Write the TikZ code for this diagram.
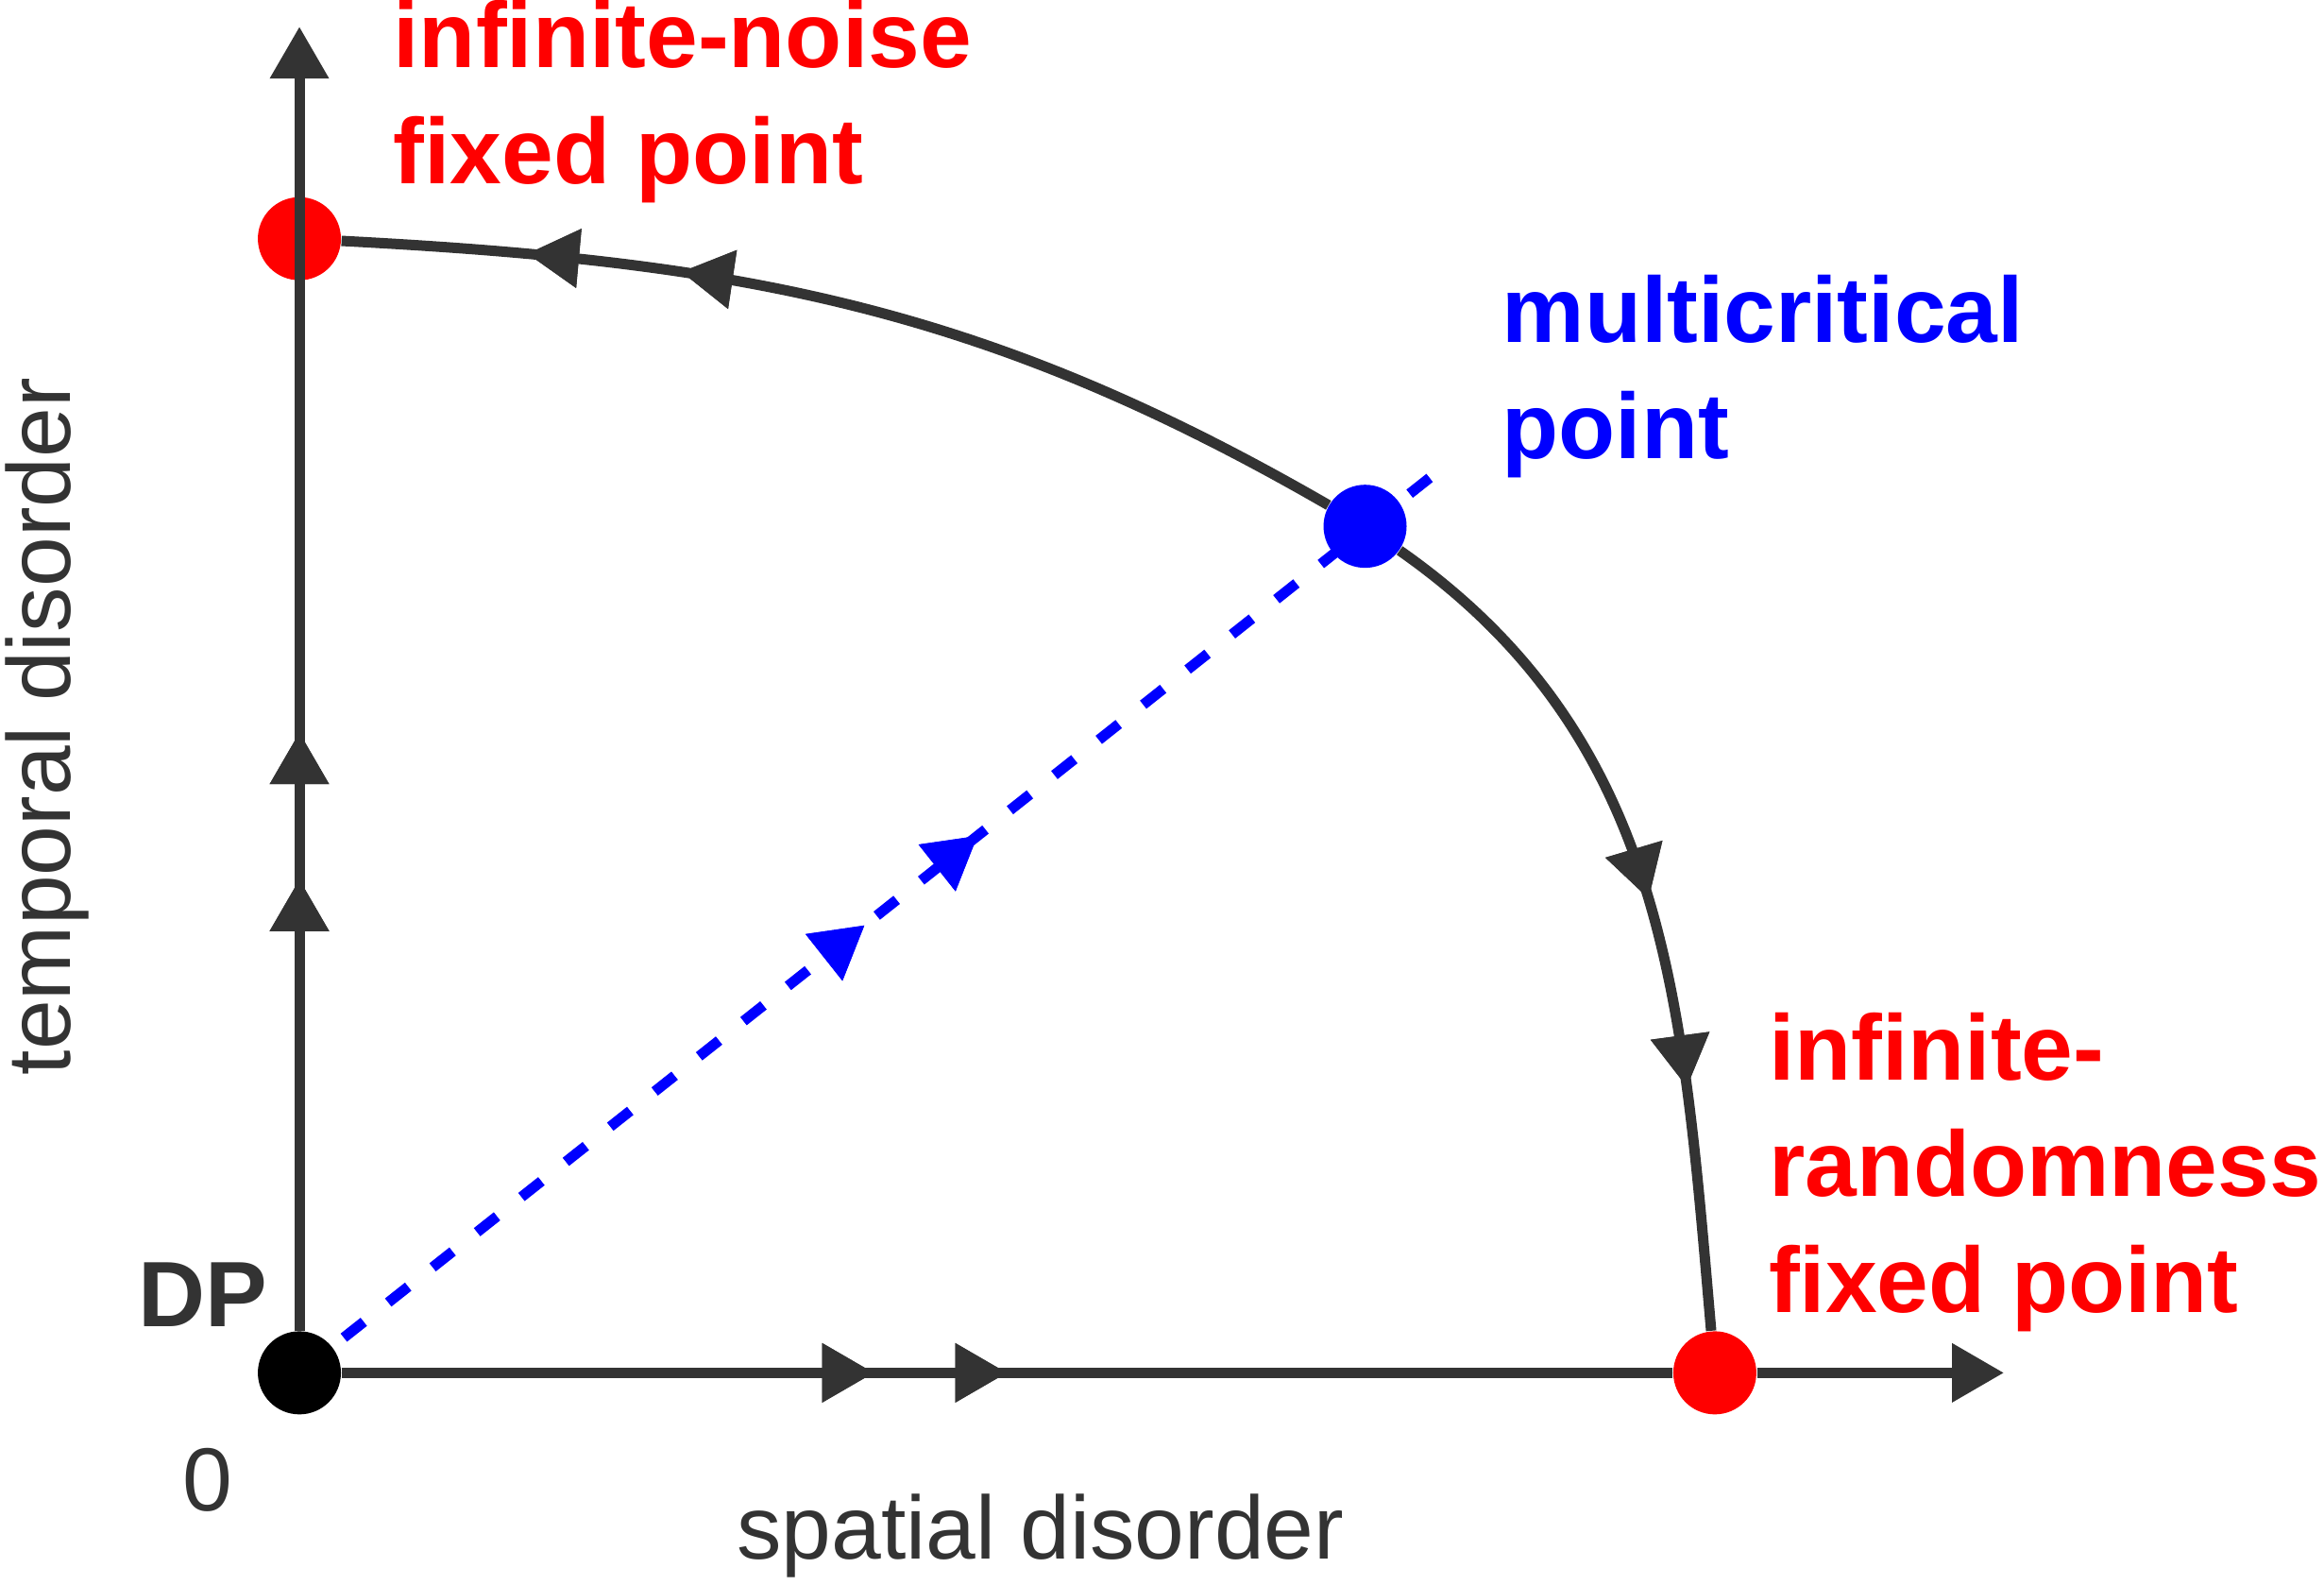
\documentclass[tikz,border=0pt]{standalone}
\usepackage{fontspec}
\setmainfont{Liberation Sans}
\usetikzlibrary{arrows.meta}
\usetikzlibrary{decorations.markings}
\definecolor{axisgray}{HTML}{333333}

\begin{document}
\begin{tikzpicture}[x=0.015695cm,y=-0.015695cm,
    fixpt/.style = {circle, fill=red, minimum size=0.88cm, inner sep=0pt},
    flow/.style = {line width=0.11cm, color=axisgray},
    lbl/.style = {font=\fontsize{28}{35}\selectfont\bfseries, align=left, anchor=north west, inner sep=0pt},
    axlbl/.style = {font=\fontsize{27}{32}\selectfont, text=axisgray, inner sep=0pt},
    tip/.style = {-{Triangle[length=0.55cm,width=0.6cm]}},
    marks/.style = {postaction={decorate},
      decoration={markings,
        mark=at position #1 with {\arrow{Triangle[length=0.55cm,width=0.6cm]}}}}]
		\useasboundingbox (0,0) rectangle (1568,1069);
		\coordinate (ytip) at (202,18);
		\coordinate (xtip) at (1352,926);
		\coordinate (dashend) at (965,322);
		% flow lines
		\draw[blue, line width=0.11cm, dash pattern=on 0.27cm off 0.33cm,
		  marks=0.5, marks=0.6] (202,926) -- (dashend);
		\node[fixpt, fill=black] (dp) at (202,926) {};
		\node[fixpt] (noise) at (202,161) {};
		\node[fixpt, fill=blue] (multi) at (921,355) {};
		\node[fixpt] (rand) at (1157,926) {};
		% axes
		\draw[flow, tip] (dp) -- (ytip);
		\draw[flow, tip] (rand) -- (xtip);
		\draw[flow, marks=0.4, marks=0.5] (dp) -- (rand);
		\draw[flow, marks=0.43, marks=0.57] (dp) -- (noise);
		\draw[flow, marks=0.67, marks=0.82] (multi) to[out=150,in=-3] (noise);
		\draw[flow, marks=0.5, marks=0.72] (multi) to[out=-35,in=95] (rand);
		% labels
		\node[lbl, text=red] (noiselbl) at (265,0) {infinite-noise\\fixed point};
		\node[lbl, text=blue] (multilbl) at (1013,185) {multicritical\\point};
		\node[lbl, text=red] (randlbl) at (1193,683) {infinite-\\randomness\\fixed point};
		\node[lbl, text=axisgray, anchor=center] (dplbl) at (137,873) {DP};
		\node[axlbl] (zero) at (140,998) {0};
		\node[axlbl] (xlbl) at (702,1036) {spatial disorder};
		\node[axlbl, rotate=90] (ylbl) at (32,490) {temporal disorder};
\end{tikzpicture}
\end{document}
